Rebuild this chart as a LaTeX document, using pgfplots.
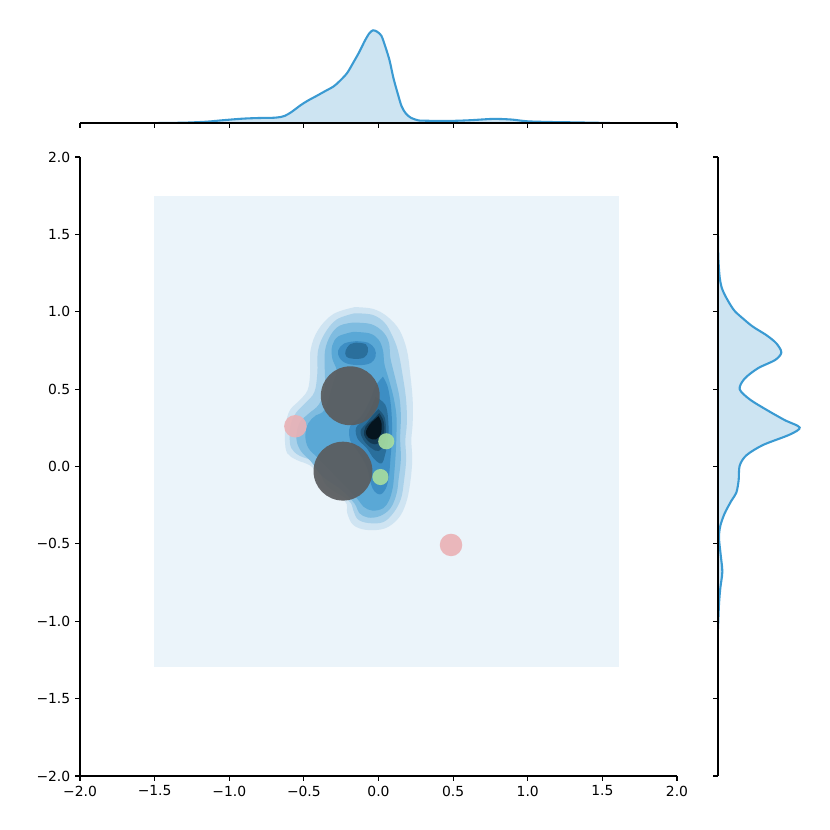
\documentclass[border=0pt]{standalone}
\usepackage{pgfplots}
\pgfplotsset{compat=1.18}
\usepackage{fontspec}
\setmainfont{DejaVu Sans}
\definecolor{k0}{HTML}{EBF4FA}
\definecolor{k1}{HTML}{CFE4F2}
\definecolor{k2}{HTML}{A9D1EA}
\definecolor{k3}{HTML}{7FBCE0}
\definecolor{k4}{HTML}{5AA8D6}
\definecolor{k5}{HTML}{3D8EC4}
\definecolor{k6}{HTML}{2A6F9C}
\definecolor{k7}{HTML}{1E567A}
\definecolor{k8}{HTML}{123A54}
\definecolor{k9}{HTML}{05141E}
\definecolor{kdeline}{HTML}{3A9AD2}
\definecolor{kdefill}{HTML}{CDE4F2}
\definecolor{pinkm}{HTML}{EAB1B5}
\definecolor{greenm}{HTML}{A6DDA0}
\definecolor{bigm}{HTML}{5A5C5E}
\pgfplotsset{
  jstyle/.style={
    scale only axis,
    tick align=outside,
    major tick length=3.5pt,
    tick style={line width=0.8pt, black},
    axis line style={line width=0.8pt, black, -},
    ticklabel style={font=\fontsize{10}{12}\selectfont},
  },
  lev/.style={draw=none, fill=#1, smooth, tension=0.6, forget plot},
}
\begin{document}
\begin{tikzpicture}
\useasboundingbox (0,0) rectangle (597.6pt,597.6pt);
% ---------------- main joint axis ----------------
\begin{axis}[jstyle,
  at={(57.6pt,38.88pt)}, anchor=south west,
  width=429.84pt, height=445.68pt,
  xmin=-2, xmax=2, ymin=-2, ymax=2,
  axis x line*=bottom, axis y line*=left,
  xtick={-2,-1.5,-1,-0.5,0,0.5,1,1.5,2},
  ytick={-2,-1.5,-1,-0.5,0,0.5,1,1.5,2},
  xticklabels={−2.0,−1.5,−1.0,−0.5,0.0,0.5,1.0,1.5,2.0},
  yticklabels={−2.0,−1.5,−1.0,−0.5,0.0,0.5,1.0,1.5,2.0},
]
% lowest level (grid extent)
\addplot[draw=none, fill=k0, forget plot] coordinates {(-1.504,-1.296) (1.611,-1.296) (1.611,1.748) (-1.504,1.748)} -- cycle;
% level 1
\addplot[lev=k1] coordinates {(-0.158,1.030) (-0.035,1.018) (0.060,0.968) (0.140,0.882) (0.190,0.753) (0.212,0.602) (0.229,0.430) (0.229,0.279) (0.220,0.171) (0.226,0.042) (0.212,-0.109) (0.184,-0.238) (0.133,-0.335) (0.043,-0.400) (-0.079,-0.410) (-0.169,-0.378) (-0.209,-0.303) (-0.225,-0.225) (-0.370,-0.152) (-0.437,-0.010) (-0.548,0.042) (-0.611,0.085) (-0.627,0.171) (-0.620,0.279) (-0.593,0.365) (-0.526,0.430) (-0.475,0.494) (-0.458,0.602) (-0.455,0.753) (-0.405,0.882) (-0.303,0.985) (-0.158,1.030)} -- cycle;
% level 2
\addplot[lev=k2] coordinates {(-0.16,0.99) (-0.04,0.98) (0.04,0.93) (0.09,0.85) (0.13,0.75) (0.16,0.60) (0.185,0.43) (0.19,0.28) (0.18,0.17) (0.185,0.04) (0.17,-0.10) (0.15,-0.21) (0.10,-0.30) (0.03,-0.36) (-0.07,-0.365) (-0.14,-0.34) (-0.17,-0.28) (-0.20,-0.22) (-0.35,-0.12) (-0.42,0.02) (-0.53,0.07) (-0.585,0.12) (-0.595,0.20) (-0.585,0.28) (-0.55,0.35) (-0.49,0.41) (-0.43,0.48) (-0.41,0.60) (-0.405,0.75) (-0.36,0.86) (-0.28,0.95) (-0.16,0.99)} -- cycle;
% level 3
\addplot[lev=k3] coordinates {(-0.17,0.93) (-0.05,0.92) (0.03,0.87) (0.07,0.80) (0.08,0.70) (0.11,0.58) (0.14,0.45) (0.15,0.32) (0.145,0.18) (0.15,0.05) (0.135,-0.08) (0.12,-0.18) (0.08,-0.27) (0.01,-0.32) (-0.07,-0.33) (-0.13,-0.30) (-0.16,-0.24) (-0.25,-0.15) (-0.38,-0.06) (-0.45,0.03) (-0.52,0.10) (-0.55,0.18) (-0.53,0.28) (-0.47,0.34) (-0.40,0.40) (-0.36,0.50) (-0.36,0.62) (-0.358,0.75) (-0.32,0.85) (-0.26,0.91) (-0.17,0.93)} -- cycle;
% level 4
\addplot[lev=k4] coordinates {(-0.17,0.87) (-0.06,0.86) (0.0,0.82) (0.03,0.75) (0.04,0.66) (0.07,0.56) (0.10,0.45) (0.12,0.33) (0.12,0.20) (0.115,0.08) (0.105,-0.05) (0.095,-0.14) (0.07,-0.22) (0.03,-0.27) (-0.04,-0.285) (-0.10,-0.26) (-0.15,-0.20) (-0.30,-0.05) (-0.40,0.05) (-0.47,0.12) (-0.49,0.20) (-0.47,0.28) (-0.42,0.33) (-0.36,0.37) (-0.30,0.55) (-0.28,0.62) (-0.31,0.70) (-0.31,0.78) (-0.27,0.84) (-0.17,0.87)} -- cycle;
% level 5
\addplot[lev=k5] coordinates {(-0.15,0.81) (-0.07,0.80) (-0.025,0.76) (-0.02,0.71) (-0.05,0.67) (-0.12,0.655) (-0.21,0.665) (-0.26,0.70) (-0.27,0.75) (-0.23,0.795) (-0.15,0.81)} -- cycle;
\addplot[lev=k5] coordinates {(0.03,0.58) (0.06,0.52) (0.08,0.42) (0.09,0.30) (0.09,0.18) (0.08,0.05) (0.07,-0.06) (0.05,-0.14) (0.01,-0.18) (-0.04,-0.14) (-0.08,0.0) (-0.14,0.10) (-0.19,0.17) (-0.19,0.26) (-0.12,0.32) (-0.06,0.42) (-0.02,0.52) (0.03,0.58)} -- cycle;
% level 6
\addplot[lev=k6] coordinates {(-0.15,0.80) (-0.085,0.79) (-0.07,0.745) (-0.095,0.705) (-0.16,0.695) (-0.215,0.71) (-0.22,0.75) (-0.19,0.79) (-0.15,0.80)} -- cycle;
\addplot[lev=k6] coordinates {(-0.02,0.45) (0.045,0.40) (0.065,0.30) (0.065,0.18) (0.045,0.08) (0.02,0.02) (-0.03,0.05) (-0.08,0.12) (-0.14,0.18) (-0.15,0.25) (-0.10,0.30) (-0.05,0.38) (-0.02,0.45)} -- cycle;
% level 7
\addplot[lev=k7] coordinates {(0.0,0.37) (0.04,0.32) (0.05,0.24) (0.04,0.15) (0.0,0.10) (-0.05,0.12) (-0.10,0.17) (-0.12,0.23) (-0.08,0.28) (-0.04,0.33) (0.0,0.37)} -- cycle;
% level 8
\addplot[lev=k8] coordinates {(0.005,0.345) (0.035,0.29) (0.035,0.21) (0.0,0.15) (-0.05,0.15) (-0.095,0.20) (-0.085,0.26) (-0.04,0.30) (0.005,0.345)} -- cycle;
% level 9
\addplot[lev=k9] coordinates {(0.0,0.325) (0.02,0.28) (0.015,0.21) (-0.02,0.175) (-0.065,0.185) (-0.085,0.22) (-0.06,0.27) (-0.03,0.30) (0.0,0.325)} -- cycle;
% scatter markers
\addplot[only marks, mark=*, mark size=21.2pt, color=bigm, mark options={draw opacity=0, fill opacity=0.93}] coordinates {(-0.189,0.457) (-0.238,-0.030)};
\addplot[only marks, mark=*, mark size=8.1pt, color=pinkm, mark options={draw opacity=0, fill opacity=0.9}] coordinates {(-0.557,0.260) (0.486,-0.507)};
\addplot[only marks, mark=*, mark size=5.8pt, color=greenm, mark options={draw opacity=0, fill opacity=0.92}] coordinates {(0.052,0.163) (0.013,-0.068)};
\end{axis}
% ---------------- top marginal ----------------
\begin{axis}[jstyle,
  at={(57.6pt,509.04pt)}, anchor=south west,
  width=429.84pt, height=74.88pt,
  xmin=-2, xmax=2, ymin=0, ymax=312,
  axis x line*=bottom, axis y line=none,
  xtick={-2,-1.5,-1,-0.5,0,0.5,1,1.5,2}, xticklabels={},
  axis on top,
]
\addplot[draw=none, fill=kdefill, smooth, forget plot] coordinates {(-1.474,0) (-1.3,1) (-1.15,4) (-1.05,8) (-0.91,13) (-0.80,15) (-0.69,16) (-0.63,21) (-0.58,34) (-0.52,54) (-0.47,68) (-0.42,80) (-0.36,95) (-0.30,110) (-0.255,128) (-0.21,150) (-0.173,178) (-0.13,212) (-0.09,248) (-0.06,270) (-0.036,278) (-0.01,274) (0.019,262) (0.045,230) (0.074,188) (0.10,135) (0.129,88) (0.155,50) (0.184,28) (0.22,15) (0.266,8) (0.30,7) (0.45,6) (0.60,8) (0.75,12) (0.82,12) (0.90,10) (1.0,5) (1.15,3) (1.30,2) (1.55,0)} -- cycle;
\addplot[kdeline, line width=1.5pt, smooth] coordinates {(-1.474,0) (-1.3,1) (-1.15,4) (-1.05,8) (-0.91,13) (-0.80,15) (-0.69,16) (-0.63,21) (-0.58,34) (-0.52,54) (-0.47,68) (-0.42,80) (-0.36,95) (-0.30,110) (-0.255,128) (-0.21,150) (-0.173,178) (-0.13,212) (-0.09,248) (-0.06,270) (-0.036,278) (-0.01,274) (0.019,262) (0.045,230) (0.074,188) (0.10,135) (0.129,88) (0.155,50) (0.184,28) (0.22,15) (0.266,8) (0.30,7) (0.45,6) (0.60,8) (0.75,12) (0.82,12) (0.90,10) (1.0,5) (1.15,3) (1.30,2) (1.55,0)};
\end{axis}
% ---------------- right marginal ----------------
\begin{axis}[jstyle,
  at={(516.96pt,38.88pt)}, anchor=south west,
  width=74.88pt, height=445.68pt,
  xmin=0, xmax=312, ymin=-2, ymax=2,
  axis y line*=left, axis x line=none,
  ytick={-2,-1.5,-1,-0.5,0,0.5,1,1.5,2}, yticklabels={},
  axis on top,
]
\addplot[draw=none, fill=kdefill, smooth, forget plot] coordinates {(0,1.49) (1,1.35) (5,1.224) (12,1.15) (25,1.09) (48,1.01) (75,0.956) (105,0.903) (145,0.849) (175,0.796) (190,0.737) (172,0.689) (120,0.635) (80,0.568) (65,0.50) (95,0.434) (145,0.367) (200,0.30) (245,0.252) (215,0.206) (135,0.139) (85,0.072) (65,0.005) (62,-0.088) (55,-0.169) (40,-0.222) (20,-0.303) (7,-0.383) (3,-0.46) (8,-0.57) (13,-0.68) (7,-0.785) (3,-0.89) (0,-1.05)} -- cycle;
\addplot[kdeline, line width=1.5pt, smooth] coordinates {(0,1.49) (1,1.35) (5,1.224) (12,1.15) (25,1.09) (48,1.01) (75,0.956) (105,0.903) (145,0.849) (175,0.796) (190,0.737) (172,0.689) (120,0.635) (80,0.568) (65,0.50) (95,0.434) (145,0.367) (200,0.30) (245,0.252) (215,0.206) (135,0.139) (85,0.072) (65,0.005) (62,-0.088) (55,-0.169) (40,-0.222) (20,-0.303) (7,-0.383) (3,-0.46) (8,-0.57) (13,-0.68) (7,-0.785) (3,-0.89) (0,-1.05)};
\end{axis}
\end{tikzpicture}
\end{document}
